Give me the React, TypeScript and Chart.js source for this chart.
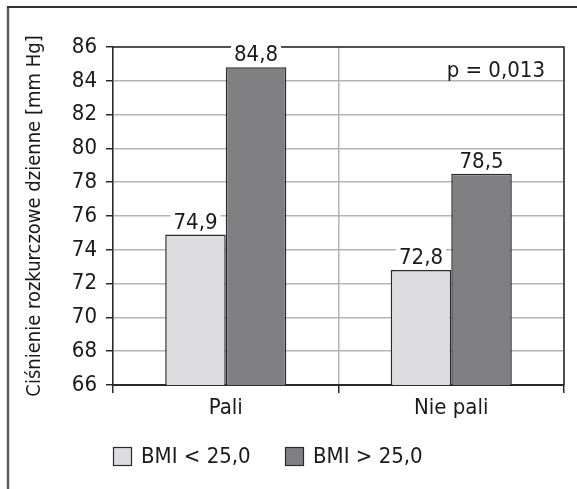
import React, { useEffect, useRef } from "react";
import { Chart, registerables } from "chart.js";

Chart.register(...registerables);

const categories = ["Pali", "Nie pali"];
const seriesNames = ["BMI < 25,0", "BMI > 25,0"];
const bmiLow = [74.9, 72.8];
const bmiHigh = [84.8, 78.5];
const yTicks = [66, 68, 70, 72, 74, 76, 78, 80, 82, 84, 86];
const pValueText = "p = 0,013";
const yTitle = "Ciśnienie rozkurczowe dzienne [mm Hg]";

const FONT = "'Liberation Sans Narrow', 'DejaVu Sans Condensed', 'Roboto Condensed', Arial, sans-serif";
const LIGHT = "#dcdcde";
const DARK = "#808083";
const EDGE = "#2a2a2a";
const TEXT = "#1a1a1a";

const fmt = (v: number) => v.toFixed(1).replace(".", ",");

const decorPlugin = {
  id: "decor",
  beforeDraw(chart: any) {
    const ctx = chart.ctx;
    ctx.save();
    ctx.fillStyle = "#ffffff";
    ctx.fillRect(0, 0, chart.width, chart.height);
    // outer frame
    ctx.strokeStyle = "#5e5e5e";
    ctx.lineWidth = 2.5;
    ctx.beginPath();
    ctx.moveTo(8, 7);
    ctx.lineTo(8, chart.height + 5);
    ctx.stroke();
    ctx.strokeStyle = "#333";
    ctx.lineWidth = 2;
    ctx.beginPath();
    ctx.moveTo(7, 7);
    ctx.lineTo(chart.width + 5, 7);
    ctx.stroke();
    ctx.restore();
  },
  afterDatasetsDraw(chart: any) {
    const ctx = chart.ctx;
    const { top, right, left } = chart.chartArea;
    ctx.save();
    // top & right border
    ctx.strokeStyle = EDGE;
    ctx.lineWidth = 1.5;
    ctx.beginPath();
    ctx.moveTo(left, top);
    ctx.lineTo(right, top);
    ctx.lineTo(right, chart.chartArea.bottom);
    ctx.stroke();

    // value labels
    ctx.font = `22px ${FONT}`;
    ctx.textAlign = "center";
    ctx.textBaseline = "alphabetic";
    chart.data.datasets.forEach((ds: any, di: number) => {
      const meta = chart.getDatasetMeta(di);
      meta.data.forEach((bar: any, i: number) => {
        const txt = fmt(ds.data[i]);
        const w = ctx.measureText(txt).width;
        const baseY = bar.y - 6;
        ctx.fillStyle = "#ffffff";
        ctx.fillRect(bar.x - w / 2 - 3, baseY - 17, w + 6, 19);
        ctx.fillStyle = TEXT;
        ctx.fillText(txt, bar.x, baseY);
      });
    });

    // p-value
    ctx.textAlign = "right";
    ctx.textBaseline = "middle";
    ctx.fillStyle = TEXT;
    ctx.fillText(pValueText, right - 19, top + 24);

    // legend
    const ly = 447;
    const items = [
      { x: 113, color: LIGHT, label: seriesNames[0] },
      { x: 285, color: DARK, label: seriesNames[1] },
    ];
    items.forEach((it) => {
      ctx.fillStyle = it.color;
      ctx.fillRect(it.x, ly, 19, 19);
      ctx.strokeStyle = EDGE;
      ctx.lineWidth = 1.2;
      ctx.strokeRect(it.x + 0.5, ly + 0.5, 18, 18);
      ctx.fillStyle = TEXT;
      ctx.textAlign = "left";
      ctx.textBaseline = "middle";
      ctx.fillText(it.label, it.x + 28, ly + 10);
    });
    ctx.restore();
  },
};

export default function App() {
  const ref = useRef<HTMLCanvasElement>(null);
  useEffect(() => {
    if (!ref.current) return;
    const chart = new Chart(ref.current, {
      type: "bar",
      data: {
        labels: categories,
        datasets: [
          {
            label: seriesNames[0],
            data: bmiLow,
            backgroundColor: LIGHT,
            borderColor: EDGE,
            borderWidth: 1.5,
            categoryPercentage: 0.537,
            barPercentage: 1,
          },
          {
            label: seriesNames[1],
            data: bmiHigh,
            backgroundColor: DARK,
            borderColor: EDGE,
            borderWidth: 1.5,
            categoryPercentage: 0.537,
            barPercentage: 1,
          },
        ],
      },
      options: {
        animation: false,
        responsive: false,
        maintainAspectRatio: false,
        layout: { padding: { left: 0, top: 47, right: 13, bottom: 64 } },
        plugins: {
          legend: { display: false },
          tooltip: { enabled: false },
        },
        scales: {
          x: {
            grid: {
              color: "#b4b4b4",
              lineWidth: 1.5,
              tickColor: EDGE,
              tickLength: 8,
              offset: true,
            },
            border: { color: EDGE, width: 2 },
            ticks: { color: TEXT, font: { family: FONT, size: 22 }, padding: 2 },
            afterFit: (s: any) => {
              s.height = 40;
            },
          },
          y: {
            min: 66,
            max: 86,
            afterBuildTicks: (s: any) => {
              s.ticks = yTicks.map((v) => ({ value: v }));
            },
            grid: {
              color: "#b4b4b4",
              lineWidth: 1.5,
              tickColor: EDGE,
              tickLength: 7,
            },
            border: { color: EDGE, width: 1.5 },
            ticks: { color: TEXT, font: { family: FONT, size: 22 }, padding: 9 },
            title: {
              display: true,
              text: yTitle,
              color: TEXT,
              font: { family: FONT, size: 20 },
              padding: { top: 23, bottom: 0 },
            },
            afterFit: (s: any) => {
              s.width = 113;
            },
          },
        },
      },
      plugins: [decorPlugin],
    });
    return () => chart.destroy();
  }, []);
  return (
    <div style={{ position: "absolute", left: 0, top: 0, width: 577, height: 489 }}>
      <canvas ref={ref} width={577} height={489} style={{ display: "block" }} />
    </div>
  );
}
